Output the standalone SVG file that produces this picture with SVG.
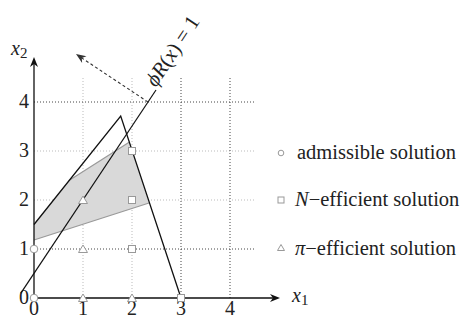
<svg xmlns="http://www.w3.org/2000/svg" width="470" height="320" viewBox="0 0 470 320">
<g id="grid" stroke-width="1" stroke-dasharray="1 2" fill="none">
<path stroke="#bbb" d="M34,200H255M34,151H255M83,298V78M132,298V78"/>
<path stroke="#444" d="M34,249H255M34,102H255M181,298V78M230,298V78"/>
</g>
<g id="feasible-region">
<path d="M34,224.5 L69,180.5 L129.5,142 L149,203 L34,240 Z" fill="#d9d9d9" stroke="none"/>
<path d="M69,180.5 L129.5,142 M149,203 L34,240" stroke="#999" stroke-width="1.2" fill="none"/>
<path d="M34,224.5 L120.7,116 L181,298" stroke="#111" stroke-width="1.3" fill="none"/>
</g>
<g id="axes">
<path d="M34,298 H276 M34,298 V61" stroke="#111" stroke-width="1.3" fill="none"/>
<path d="M280,298 L270,294 L273,298 L270,302 Z M34,57 L30,67 L34,64 L38,67 Z" fill="#111"/>
<text x="292" y="302" font-family="Liberation Serif" font-size="20" font-style="italic" fill="#222">x<tspan font-style="normal" font-size="15" dy="3">1</tspan></text>
<text x="11" y="55" font-family="Liberation Serif" font-size="20" font-style="italic" fill="#222">x<tspan font-style="normal" font-size="15" dy="3">2</tspan></text>
<text x="34" y="315" font-family="Liberation Serif" font-size="20" fill="#222" text-anchor="middle">0</text>
<text x="83" y="315" font-family="Liberation Serif" font-size="20" fill="#222" text-anchor="middle">1</text>
<text x="132" y="315" font-family="Liberation Serif" font-size="20" fill="#222" text-anchor="middle">2</text>
<text x="181" y="315" font-family="Liberation Serif" font-size="20" fill="#222" text-anchor="middle">3</text>
<text x="230" y="315" font-family="Liberation Serif" font-size="20" fill="#222" text-anchor="middle">4</text>
<text x="24" y="304" font-family="Liberation Serif" font-size="20" fill="#222" text-anchor="middle">0</text>
<text x="24" y="255" font-family="Liberation Serif" font-size="20" fill="#222" text-anchor="middle">1</text>
<text x="24" y="206" font-family="Liberation Serif" font-size="20" fill="#222" text-anchor="middle">2</text>
<text x="24" y="157" font-family="Liberation Serif" font-size="20" fill="#222" text-anchor="middle">3</text>
<text x="24" y="108" font-family="Liberation Serif" font-size="20" fill="#222" text-anchor="middle">4</text>
</g>
<g id="connectors">
<path d="M20.7,293.3 L156,90" stroke="#111" stroke-width="1.2" fill="none"/>
<path d="M148,102 L81.5,57.8" stroke="#333" stroke-width="1.1" stroke-dasharray="3 2.5" fill="none"/>
<path d="M76,54 L86.5,56.2 L81.8,57.9 L82.1,62.9 Z" fill="#333"/>
<text transform="translate(156,88) rotate(-56.3)" font-family="Liberation Serif" font-size="21" fill="#222"><tspan font-style="italic">&#981;R</tspan>(<tspan font-style="italic">x</tspan>)  =  1</text>
</g>
<g id="points" stroke="#999" stroke-width="1" fill="#fff">
<circle cx="34" cy="298" r="3.8"/><circle cx="34" cy="249" r="3.8"/>
<path d="M83,294 L87.5,301.5 L78.5,301.5 Z M132,294 L136.5,301.5 L127.5,301.5 Z M83,245 L87.5,252.5 L78.5,252.5 Z M83,196 L87.5,203.5 L78.5,203.5 Z"/>
<rect x="128.5" y="245.5" width="7" height="7"/><rect x="128.5" y="196.5" width="7" height="7"/><rect x="128.5" y="147.5" width="7" height="7"/><rect x="177.5" y="294.5" width="7" height="7"/>
</g>
<g id="legend-admissible">
<circle cx="281" cy="153" r="2.8" stroke="#999" fill="#fff"/>
<text x="297" y="159" font-family="Liberation Serif" font-size="20.5" fill="#222">admissible solution</text>
</g>
<g id="legend-N-efficient">
<rect x="278" y="197" width="6" height="6" stroke="#999" fill="#fff"/>
<text x="295" y="206" font-family="Liberation Serif" font-size="20.5" fill="#222"><tspan font-style="italic">N</tspan>&#8722;efficient solution</text>
</g>
<g id="legend-pi-efficient">
<path d="M281,244.5 L284.5,250.5 L277.5,250.5 Z" stroke="#999" fill="#fff"/>
<text x="295" y="255" font-family="Liberation Serif" font-size="20.5" fill="#222"><tspan font-style="italic">&#960;</tspan>&#8722;efficient solution</text>
</g>
</svg>
